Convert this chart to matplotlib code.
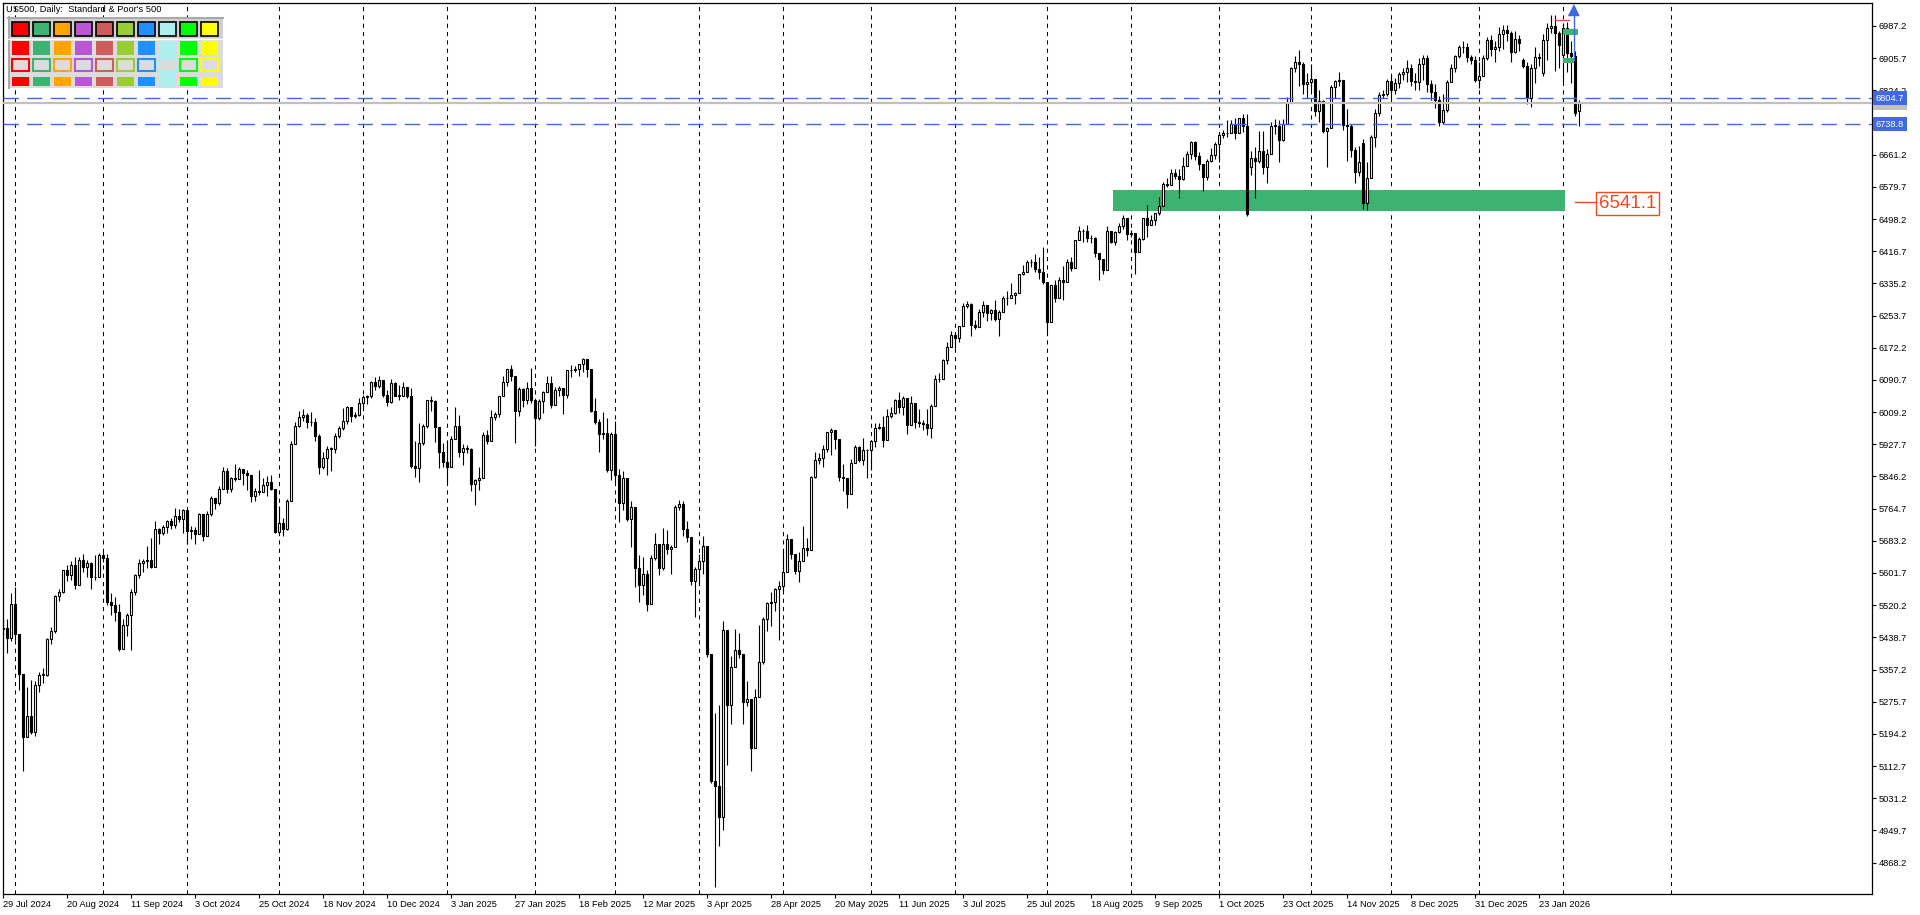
import numpy as np
import pandas as pd
import matplotlib
matplotlib.use('Agg')
import matplotlib.pyplot as plt
from matplotlib.patches import Rectangle, Polygon
from matplotlib.transforms import blended_transform_factory

plt.rcParams['font.family'] = ['Liberation Sans', 'DejaVu Sans']

# ---- US500 daily candles, 29 Jul 2024 .. 6 Feb 2026 (one row per month) ----
first_open = 5460
closes = [
    5463, 5436, 5522,
    5447, 5347, 5186, 5240, 5200, 5319, 5344, 5344, 5434, 5455, 5543, 5554, 5608, 5597, 5621, 5571, 5635, 5617, 5626, 5592, 5592, 5648,
    5640, 5529, 5520, 5503, 5408, 5471, 5496, 5554, 5596, 5626, 5633, 5635, 5618, 5714, 5703, 5719, 5733, 5722, 5745, 5738, 5762,
    5709, 5710, 5700, 5751, 5696, 5751, 5792, 5780, 5815, 5860, 5815, 5842, 5841, 5865, 5854, 5851, 5797, 5810, 5808, 5824, 5833, 5814, 5705,
    5729, 5713, 5783, 5929, 5973, 5996, 6001, 5984, 5985, 5949, 5871, 5894, 5917, 5917, 5949, 5969, 5987, 6022, 5999, 6003, 6032,
    6047, 6050, 6086, 6075, 6090, 6053, 6035, 6084, 6051, 6051, 6074, 6051, 5872, 5867, 5931, 5974, 6040, 6038, 5971, 5907, 5882,
    5869, 5942, 5975, 5909, 5918, 5915, 5827, 5836, 5843, 5950, 5937, 5997, 6005, 6049, 6086, 6119, 6101, 6012, 6068, 6039, 6071, 6041,
    5995, 6038, 6061, 6084, 6026, 6066, 6069, 6052, 6115, 6115, 6118, 6130, 6144, 6118, 6013, 5983, 5955, 5956, 5862, 5955,
    5850, 5778, 5843, 5739, 5770, 5615, 5572, 5599, 5522, 5639, 5675, 5615, 5675, 5663, 5668, 5768, 5777, 5712, 5693, 5581, 5612,
    5633, 5671, 5397, 5074, 5062, 4983, 5457, 5268, 5363, 5406, 5397, 5276, 5283, 5158, 5288, 5376, 5485, 5525, 5529, 5561, 5569,
    5604, 5687, 5650, 5607, 5631, 5664, 5660, 5844, 5887, 5893, 5917, 5958, 5964, 5940, 5845, 5842, 5803, 5880, 5922, 5889, 5912, 5912,
    5936, 5970, 5971, 5939, 6000, 6006, 6039, 6022, 6045, 5977, 6033, 5983, 5981, 5978, 5968, 6025, 6092, 6092, 6141, 6173, 6205,
    6198, 6227, 6279, 6282, 6230, 6226, 6263, 6280, 6260, 6269, 6244, 6264, 6297, 6297, 6306, 6310, 6359, 6363, 6389, 6390, 6371, 6363, 6339,
    6238, 6330, 6299, 6345, 6340, 6389, 6373, 6446, 6467, 6469, 6450, 6449, 6411, 6396, 6370, 6467, 6439, 6466, 6481, 6502, 6460,
    6462, 6416, 6448, 6502, 6482, 6495, 6513, 6532, 6587, 6584, 6615, 6607, 6600, 6632, 6664, 6694, 6657, 6638, 6605, 6644, 6661, 6688,
    6711, 6715, 6716, 6740, 6715, 6754, 6735, 6512, 6654, 6644, 6671, 6629, 6664, 6735, 6735, 6699, 6738, 6792, 6880, 6895, 6890, 6840, 6845,
    6852, 6772, 6796, 6720, 6729, 6832, 6847, 6851, 6737, 6734, 6672, 6617, 6642, 6539, 6603, 6705, 6766, 6813, 6815, 6849,
    6825, 6842, 6865, 6870, 6880, 6848, 6845, 6890, 6905, 6840, 6820, 6800, 6745, 6775, 6845, 6880, 6910, 6933, 6935, 6908, 6900, 6850,
    6860, 6905, 6952, 6930, 6935, 6968, 6977, 6970, 6922, 6955, 6945, 6885, 6805, 6880, 6908, 6906, 6952, 6982, 6988, 6970, 6940,
    6981, 6918, 6912, 6766, 6793,
]
highs = [
    5487, 5485, 5551,
    5566, 5440, 5312, 5312, 5331, 5328, 5351, 5360, 5436, 5464, 5547, 5562, 5609, 5621, 5633, 5643, 5642, 5651, 5635, 5629, 5647, 5652,
    5655, 5651, 5552, 5540, 5523, 5484, 5501, 5561, 5600, 5637, 5638, 5671, 5690, 5733, 5716, 5722, 5736, 5741, 5767, 5765, 5765,
    5765, 5720, 5718, 5754, 5751, 5758, 5797, 5792, 5822, 5871, 5868, 5846, 5878, 5869, 5866, 5863, 5851, 5817, 5863, 5842, 5848, 5850, 5815,
    5772, 5741, 5788, 5937, 5983, 6012, 6018, 6008, 6009, 5993, 5955, 5909, 5923, 5921, 5956, 5973, 6020, 6025, 6020, 6010, 6044,
    6053, 6053, 6089, 6099, 6100, 6089, 6066, 6092, 6085, 6079, 6086, 6073, 6071, 5935, 5982, 5978, 6041, 6049, 6040, 5971, 5930,
    5935, 5949, 6021, 6001, 5928, 5925, 5918, 5840, 5871, 5960, 5965, 6015, 6010, 6051, 6100, 6119, 6128, 6101, 6074, 6070, 6086, 6120,
    6041, 6042, 6062, 6101, 6101, 6073, 6076, 6070, 6117, 6128, 6125, 6130, 6147, 6144, 6118, 6044, 5992, 6010, 5994, 5959,
    5987, 5866, 5860, 5843, 5784, 5770, 5646, 5642, 5610, 5646, 5703, 5675, 5716, 5711, 5672, 5775, 5786, 5783, 5733, 5690, 5617,
    5650, 5695, 5671, 5397, 5246, 5267, 5481, 5457, 5391, 5460, 5450, 5397, 5328, 5283, 5309, 5469, 5489, 5528, 5554, 5563, 5581,
    5659, 5700, 5683, 5650, 5654, 5721, 5691, 5847, 5907, 5906, 5925, 5959, 5968, 5965, 5939, 5878, 5842, 5890, 5925, 5924, 5944, 5915,
    5938, 5982, 5981, 5999, 6017, 6022, 6043, 6060, 6050, 6045, 6051, 6033, 6018, 5990, 6018, 6030, 6102, 6109, 6144, 6187, 6215,
    6211, 6228, 6285, 6290, 6285, 6243, 6270, 6290, 6280, 6271, 6292, 6267, 6303, 6316, 6336, 6313, 6360, 6381, 6395, 6397, 6409, 6401, 6427,
    6339, 6330, 6343, 6352, 6379, 6396, 6401, 6446, 6481, 6474, 6482, 6459, 6454, 6411, 6396, 6481, 6467, 6468, 6487, 6508, 6502,
    6470, 6462, 6454, 6502, 6533, 6508, 6513, 6555, 6592, 6601, 6626, 6626, 6624, 6656, 6671, 6697, 6697, 6668, 6638, 6650, 6679, 6693,
    6718, 6725, 6750, 6749, 6754, 6755, 6765, 6764, 6670, 6680, 6722, 6720, 6676, 6745, 6752, 6750, 6752, 6808, 6884, 6910, 6927, 6895, 6868,
    6890, 6852, 6826, 6800, 6732, 6838, 6850, 6870, 6851, 6776, 6740, 6680, 6683, 6700, 6642, 6712, 6777, 6820, 6825, 6852,
    6862, 6855, 6870, 6880, 6900, 6890, 6868, 6905, 6915, 6915, 6850, 6840, 6810, 6815, 6850, 6890, 6915, 6940, 6950, 6945, 6915, 6910,
    6895, 6915, 6960, 6965, 6950, 6985, 6990, 6990, 6975, 6975, 6965, 6905, 6895, 6890, 6935, 6920, 6968, 6995, 7015, 7015, 6975,
    6995, 6998, 6950, 6925, 6800,
]
lows = [
    5445, 5400, 5430,
    5433, 5306, 5100, 5185, 5193, 5190, 5300, 5324, 5340, 5422, 5450, 5530, 5550, 5582, 5585, 5560, 5570, 5603, 5592, 5560, 5584, 5595,
    5630, 5520, 5494, 5480, 5403, 5410, 5441, 5406, 5546, 5590, 5603, 5614, 5615, 5620, 5675, 5699, 5702, 5714, 5715, 5731, 5703,
    5674, 5688, 5675, 5703, 5683, 5695, 5745, 5764, 5775, 5815, 5804, 5807, 5835, 5840, 5824, 5813, 5781, 5784, 5800, 5807, 5797, 5812, 5703,
    5704, 5696, 5710, 5790, 5929, 5971, 5986, 5970, 5973, 5937, 5853, 5865, 5850, 5860, 5906, 5944, 5963, 5980, 5984, 5995, 6000,
    6023, 6030, 6045, 6065, 6070, 6048, 6025, 6031, 6050, 6040, 6050, 6045, 5867, 5845, 5833, 5926, 5970, 6011, 5933, 5868, 5870,
    5830, 5869, 5942, 5896, 5874, 5905, 5809, 5773, 5812, 5843, 5928, 5937, 5990, 5996, 6049, 6075, 6088, 5932, 6000, 6022, 6030, 6031,
    5923, 5990, 6007, 6074, 6020, 6026, 6050, 6004, 6045, 6099, 6110, 6100, 6111, 6097, 6009, 5979, 5909, 5940, 5858, 5837,
    5833, 5732, 5761, 5733, 5667, 5565, 5529, 5547, 5505, 5522, 5635, 5597, 5610, 5651, 5598, 5714, 5760, 5695, 5680, 5572, 5489,
    5574, 5600, 5390, 5069, 4806, 4910, 4950, 5116, 5220, 5363, 5386, 5220, 5266, 5101, 5158, 5288, 5371, 5455, 5468, 5505, 5433,
    5556, 5604, 5637, 5598, 5578, 5631, 5645, 5660, 5843, 5878, 5869, 5907, 5900, 5915, 5835, 5810, 5767, 5803, 5880, 5883, 5874, 5843,
    5862, 5921, 5966, 5920, 5939, 5994, 6005, 6006, 6003, 5953, 5977, 5968, 5971, 5965, 5952, 5943, 6025, 6086, 6092, 6132, 6173,
    6172, 6187, 6227, 6272, 6201, 6219, 6226, 6251, 6239, 6243, 6241, 6201, 6264, 6280, 6297, 6282, 6310, 6357, 6363, 6377, 6365, 6347, 6334,
    6212, 6238, 6289, 6299, 6294, 6340, 6367, 6373, 6446, 6440, 6441, 6437, 6402, 6343, 6359, 6370, 6438, 6433, 6462, 6474, 6444,
    6452, 6360, 6416, 6445, 6454, 6482, 6482, 6509, 6532, 6580, 6584, 6599, 6551, 6596, 6632, 6651, 6649, 6622, 6570, 6596, 6643, 6650,
    6643, 6703, 6705, 6716, 6700, 6715, 6718, 6505, 6610, 6552, 6640, 6613, 6590, 6664, 6714, 6642, 6696, 6738, 6792, 6871, 6836, 6815, 6805,
    6822, 6760, 6745, 6715, 6631, 6729, 6805, 6836, 6725, 6646, 6655, 6590, 6607, 6523, 6521, 6603, 6680, 6760, 6805, 6810,
    6800, 6815, 6830, 6850, 6846, 6835, 6825, 6825, 6850, 6820, 6800, 6780, 6735, 6740, 6770, 6845, 6870, 6905, 6920, 6895, 6890, 6845,
    6830, 6860, 6900, 6910, 6895, 6925, 6930, 6950, 6895, 6920, 6925, 6880, 6790, 6783, 6842, 6885, 6860, 6900, 6970, 6872, 6880,
    6843, 6870, 6842, 6760, 6733,
]
# sessions that opened away from the prior close
open_gaps = {'2025-10-13': 6630, '2025-11-20': 6690, '2026-01-19': 6901,
             '2026-01-26': 6867, '2026-02-02': 6914, '2026-02-06': 6773}
closed_days = ['2024-12-25', '2025-01-01', '2025-04-18', '2025-12-25', '2026-01-01']

# chart objects
level_value = 6541.1
zone_low, zone_high = 6518, 6571
zone_from, zone_to = '2025-08-26', '2026-02-02'
blue_levels = [6804.7, 6738.8]
bid_price = 6793.3
price_ticks = [6987.2 - 81.5 * k for k in range(27)]
future_separators = [417]
palette = ['#FF0000', '#3CB371', '#FFA500', '#BA55D3', '#CD5C5C',
           '#9ACD32', '#1E90FF', '#AFEEEE', '#00FF00', '#FFFF00']

dates = pd.bdate_range('2024-07-29', '2026-02-06')
dates = dates[~dates.isin(pd.to_datetime(closed_days))]
c = np.array(closes, float)
h = np.array(highs, float)
l = np.array(lows, float)
o = np.r_[first_open, c[:-1]]
for d, v in open_gaps.items():
    o[dates.get_loc(pd.Timestamp(d))] = v
x = np.arange(len(dates))

W, H = 1920, 915
fig = plt.figure(figsize=(W / 100, H / 100), dpi=100)
fig.patch.set_facecolor('white')
left_px, right_px, top_px, bot_px = 2.5, 1872, 2.5, 894
ax = fig.add_axes([left_px / W, 1 - bot_px / H, (right_px - left_px) / W, (bot_px - top_px) / H])
ax.set_xlim((left_px - 3) / 4, (right_px - 3) / 4)
ax.set_ylim(6987.2 - (bot_px - 26) * 2.533, 6987.2 + (26 - top_px) * 2.533)

# month separators
month_start = [i for i in range(1, len(dates)) if dates[i].month != dates[i - 1].month]
for i in month_start + future_separators:
    ax.axvline(i, color='black', lw=0.75, ls=(0, (4, 4)), zorder=1)

# support zone
zi0 = dates.get_loc(pd.Timestamp(zone_from)) - 0.5
zi1 = dates.get_loc(pd.Timestamp(zone_to)) + 0.5
ax.add_patch(Rectangle((zi0, zone_low), zi1 - zi0, zone_high - zone_low,
                       facecolor='#3CB371', edgecolor='none', zorder=1.5))

# candles
lo_body = np.minimum(o, c)
hi_body = np.maximum(o, c)
ax.vlines(x, np.minimum(l, lo_body), np.maximum(h, hi_body), color='black', lw=0.8, zorder=3)
up = c >= o
hgt = np.maximum(hi_body - lo_body, 0.6)
ax.bar(x[up], hgt[up], bottom=lo_body[up], width=0.5, facecolor='white',
       edgecolor='black', linewidth=0.8, zorder=4)
ax.bar(x[~up], hgt[~up], bottom=lo_body[~up], width=0.5, facecolor='black',
       edgecolor='black', linewidth=0.8, zorder=4)

# horizontal levels
ax.axhline(bid_price, color='#C0C0C0', lw=1.6, zorder=5)
for v in blue_levels:
    ax.axhline(v, color='#4169E1', lw=1.0, ls=(0, (11, 6)), zorder=5)

# objects near the last bars
last = len(dates) - 1
ax.plot([last - 6, last - 2.5], [7002, 7002], color='#E05050', lw=1, zorder=6)
ax.add_patch(Rectangle((last - 3.9, 6965), 3.75, 14.5, facecolor='#3CB371', edgecolor='none', zorder=6))
ax.add_patch(Rectangle((last - 4.1, 6893.5), 2.85, 13.5, facecolor='#3CB371', edgecolor='none', zorder=6))
ax.plot([last - 1.25, last - 1.25], [6902, 7012], color='#4169E1', lw=1, zorder=7)
ax.add_patch(Polygon([[last - 2.8, 7012], [last - 1.25, 7043], [last + 0.2, 7012]], closed=True,
                     facecolor='#4169E1', edgecolor='none', zorder=7))

# level label
ax.plot([last - 1.1, last + 4.2], [level_value, level_value], color='#F04A1A', lw=1, zorder=6)
ax.text(last + 5.0, level_value - 4, f'{level_value:.1f}', fontsize=13.5, color='#F04A1A',
        ha='left', va='center', zorder=8,
        bbox=dict(boxstyle='square,pad=0.15', facecolor='white', edgecolor='#F04A1A', linewidth=1))

# axes styling
for s in ax.spines.values():
    s.set_color('black')
    s.set_linewidth(0.9)
ax.yaxis.tick_right()
ax.set_yticks(price_ticks)
ax.set_yticklabels([f'{v:.1f}' for v in price_ticks])
ax.tick_params(axis='y', direction='out', length=3, width=0.8, labelsize=6.7, pad=1.5, colors='black')
xt = list(range(0, len(dates), 16))
ax.set_xticks(xt)
ax.set_xticklabels([f'{dates[i].day} {dates[i].strftime("%b %Y")}' for i in xt], ha='left')
ax.tick_params(axis='x', direction='out', length=3, width=0.8, labelsize=6.7, pad=1.5, colors='black')

# price boxes on the right scale
tr = blended_transform_factory(ax.transAxes, ax.transData)
xoff = 1.0 + 3.5 / (right_px - left_px)
ax.text(xoff, bid_price, f'{bid_price:.1f}', transform=tr, fontsize=6.7, color='white',
        ha='left', va='center', clip_on=False, zorder=10,
        bbox=dict(boxstyle='square,pad=0.3', facecolor='#C0C0C0', edgecolor='none'))
for v in blue_levels:
    ax.text(xoff, v, f'{v:.1f}', transform=tr, fontsize=6.7, color='white',
            ha='left', va='center', clip_on=False, zorder=11,
            bbox=dict(boxstyle='square,pad=0.3', facecolor='#4169E1', edgecolor='none'))

# overlay: title and colour panel (pixel coordinates)
ov = fig.add_axes([0, 0, 1, 1])
ov.set_xlim(0, W)
ov.set_ylim(H, 0)
ov.axis('off')
ov.patch.set_visible(False)
ov.text(6, 10, "US500, Daily:  Standard & Poor's 500", fontsize=6.7, ha='left', va='center')
ov.add_patch(Rectangle((8, 17), 215, 71, facecolor='#DCDCDC', edgecolor='none'))
ov.add_patch(Rectangle((8, 17), 215, 21, facecolor='#D0D0D0', edgecolor='none'))
ov.plot([8, 223], [17.5, 17.5], color='#A8A8A8', lw=1.4)
ov.plot([8.5, 8.5], [17, 88], color='#A8A8A8', lw=1.4)
ov.plot([8, 223], [38.5, 38.5], color='white', lw=1)
for k, col in enumerate(palette):
    x0 = 11.5 + 21 * k
    if col == '#AFEEEE':
        ov.add_patch(Rectangle((x0, 40.5), 17.7, 46, facecolor=col, edgecolor='none'))
    ov.add_patch(Rectangle((x0, 22), 17.7, 14, facecolor=col, edgecolor='black', linewidth=1.2))
    ov.add_patch(Rectangle((x0, 40.5), 17.7, 14.5, facecolor=col, edgecolor='none'))
    ov.add_patch(Rectangle((x0 + 0.7, 58.5), 16.3, 12.5, facecolor='#DCDCDC', edgecolor=col, linewidth=1.5))
    ov.add_patch(Rectangle((x0, 77), 17.7, 8.5, facecolor=col, edgecolor='none'))

fig.savefig('out.png', dpi=100, facecolor='white')
